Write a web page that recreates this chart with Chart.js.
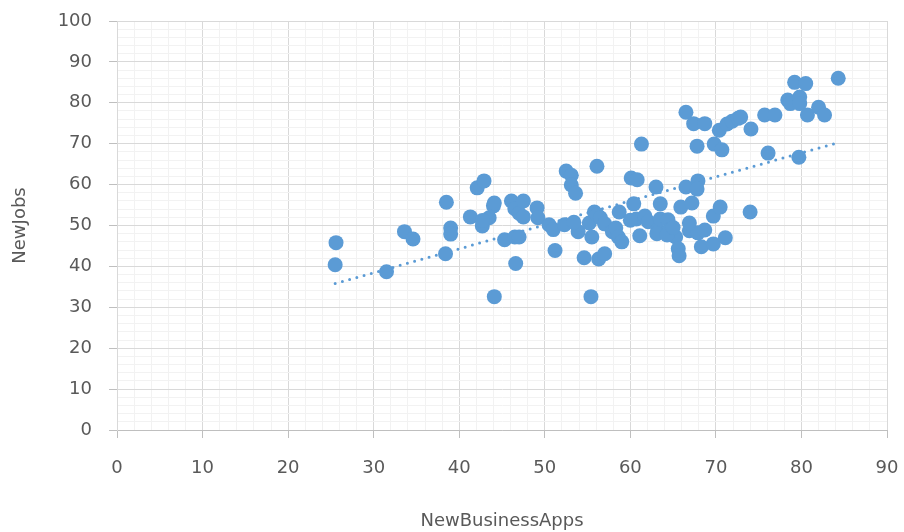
<!DOCTYPE html>
<html>
<head>
<meta charset="utf-8">
<title>NewJobs vs NewBusinessApps</title>
<script src="https://cdn.jsdelivr.net/npm/chart.js@4.4.1/dist/chart.umd.min.js"></script>
<style>
  html, body { margin: 0; padding: 0; background: #ffffff; }
  #wrap { width: 904px; height: 532px; }
</style>
</head>
<body>
<div id="wrap"><canvas id="mycanvas" width="904" height="532"></canvas></div>
<script>
// values
var newBusinessApps = [
  25.6, 25.5, 31.5, 33.6, 34.6, 38.5, 38.4, 39.0, 39.0, 41.3,
  42.1, 42.9, 42.7, 43.5, 44.0, 44.1, 44.1, 45.3, 46.1, 46.5,
  46.6, 46.5, 47.0, 47.0, 47.5, 47.5, 49.1, 49.2, 50.5, 51.0,
  51.2, 52.3, 52.5, 53.1, 53.1, 53.6, 53.9, 54.6, 55.2, 55.5,
  55.4, 55.8, 56.1, 56.1, 56.3, 56.5, 57.0, 57.0, 57.9, 58.3,
  58.7, 58.6, 59.0, 60.1, 60.8, 60.4, 60.7, 61.3, 61.1, 61.7,
  62.1, 63.0, 63.2, 63.5, 63.5, 63.1, 64.4, 64.6, 65.3, 65.6,
  65.7, 65.9, 66.5, 66.5, 66.9, 67.2, 67.4, 67.8, 67.9, 67.8,
  67.9, 68.3, 68.7, 69.7, 69.7, 69.8, 70.4, 70.5, 70.7, 71.1,
  71.3, 71.9, 72.6, 72.9, 74.0, 74.1, 75.7, 76.1, 76.9, 78.4,
  78.7, 79.2, 79.7, 79.8, 79.8, 80.5, 80.7, 82.0, 82.7, 84.3,
  66.9, 64.3, 60.0, 68.7, 42.7, 53.4, 65.0
];
var newJobs = [
  45.8, 40.4, 38.7, 48.5, 46.7, 55.7, 43.1, 49.4, 47.9, 52.1,
  59.2, 60.9, 49.9, 51.9, 54.8, 55.5, 32.6, 46.5, 56.0, 54.1,
  40.7, 47.2, 47.2, 53.0, 56.0, 52.1, 54.3, 51.9, 50.2, 49.0,
  43.9, 50.2, 63.3, 62.3, 59.9, 57.9, 48.5, 42.1, 50.6, 47.2,
  32.6, 53.3, 52.6, 64.5, 41.8, 51.9, 43.1, 50.4, 48.5, 49.4,
  53.3, 47.2, 46.0, 61.6, 61.2, 55.3, 51.6, 69.9, 47.5, 52.3,
  50.9, 59.4, 48.9, 55.3, 51.6, 48.0, 51.4, 48.9, 47.2, 44.3,
  42.6, 54.5, 59.4, 77.7, 48.7, 55.5, 74.9, 69.4, 60.9, 58.9,
  48.2, 44.8, 74.9, 52.3, 45.5, 69.9, 73.3, 54.5, 68.5, 47.0,
  74.8, 75.5, 76.2, 76.5, 53.3, 73.6, 77.0, 67.7, 77.0, 80.7,
  79.8, 85.0, 66.7, 81.4, 79.8, 84.7, 77.0, 78.9, 77.0, 86.0,
  50.6, 47.7, 51.3, 48.9, 51.2, 50.8, 49.5
];
// dotted trend line, its two ends
var trendX = [25.5, 84.0];
var trendY = [35.8, 70.1];

var blue = '#5B9BD5';
var textGrey = '#595959';

var points = [];
for (var i = 0; i < newBusinessApps.length; i++) {
  points.push({x: newBusinessApps[i], y: newJobs[i]});
}
var trend = [];
for (var j = 0; j < trendX.length; j++) {
  trend.push({x: trendX[j], y: trendY[j]});
}

function gridColor(ctx) {
  if (!ctx.tick) return '#D9D9D9';
  return ctx.tick.value % 10 === 0 ? '#D9D9D9' : '#F2F2F2';
}
function tickColor(ctx) {
  if (!ctx.tick) return '#BFBFBF';
  return ctx.tick.value % 10 === 0 ? '#BFBFBF' : 'rgba(0,0,0,0)';
}
function majorOnly(value) {
  return value % 10 === 0 ? value : '';
}

var ctx = document.getElementById('mycanvas');

var chart = new Chart(ctx, {
  type: 'scatter',
  data: {
    datasets: [
      {
        label: 'NewJobs',
        data: points,
        backgroundColor: blue,
        borderColor: blue,
        borderWidth: 0,
        pointRadius: 7.5,
        pointHoverRadius: 7.5,
        order: 1
      },
      {
        label: 'Linear (NewJobs)',
        data: trend,
        showLine: true,
        borderColor: blue,
        borderWidth: 3,
        borderDash: [0, 7.5],
        borderCapStyle: 'round',
        pointRadius: 0,
        fill: false,
        order: 2
      }
    ]
  },
  options: {
    responsive: false,
    animation: false,
    layout: { padding: { top: 21, right: 17, left: 0, bottom: 0 } },
    plugins: {
      legend: { display: false },
      tooltip: { enabled: false }
    },
    scales: {
      x: {
        type: 'linear',
        min: 0,
        max: 90,
        ticks: {
          stepSize: 2,
          autoSkip: false,
          maxRotation: 0,
          padding: 20,
          color: textGrey,
          font: { family: 'DejaVu Sans', size: 18 },
          callback: majorOnly
        },
        grid: {
          color: gridColor,
          tickColor: tickColor,
          tickLength: 8,
          lineWidth: 1
        },
        border: { color: '#BFBFBF', width: 1 },
        title: {
          display: true,
          text: 'NewBusinessApps',
          color: textGrey,
          font: { family: 'DejaVu Sans', size: 18 },
          padding: { top: 0, bottom: 0 }
        },
        afterFit: function(scale) {
          scale.height = 102;
          scale.paddingLeft = 0;
          scale.paddingRight = 0;
        }
      },
      y: {
        type: 'linear',
        min: 0,
        max: 100,
        ticks: {
          stepSize: 2,
          autoSkip: false,
          padding: 17,
          color: textGrey,
          font: { family: 'DejaVu Sans', size: 18 },
          callback: majorOnly
        },
        grid: {
          color: gridColor,
          tickColor: tickColor,
          tickLength: 8,
          lineWidth: 1
        },
        border: { color: '#D9D9D9', width: 1 },
        title: {
          display: true,
          text: 'NewJobs',
          color: textGrey,
          font: { family: 'DejaVu Sans', size: 18 },
          padding: { top: 10, bottom: 0 }
        },
        afterFit: function(scale) {
          scale.width = 117;
          scale.paddingTop = 0;
          scale.paddingBottom = 0;
        }
      }
    }
  }
});
</script>
</body>
</html>
